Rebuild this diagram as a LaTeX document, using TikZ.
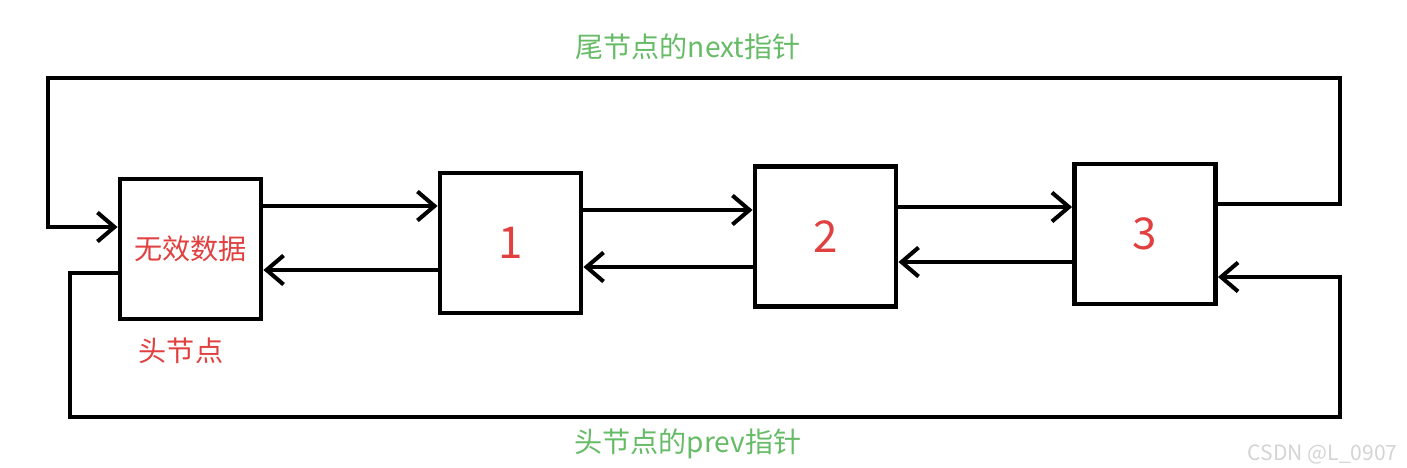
\documentclass[tikz,border=0pt]{standalone}
\usepackage{fontspec}
\usetikzlibrary{arrows.meta}
\newfontfamily\cjk{Noto Sans CJK SC}
\definecolor{LLRed}{HTML}{E0403F}
\definecolor{LLGreen}{HTML}{66BB66}
\definecolor{LLMark}{HTML}{D4D4D4}
\tikzset{
  listbox/.style={draw=black,line width=2.8pt,minimum width=2.82cm,minimum height=2.80cm,inner sep=0pt},
  ptr/.style={line width=2.3pt,-{Straight Barb[length=3.4mm,width=5.8mm,line width=2.3pt]}},
  rim/.style={line width=2.3pt}
}
\begin{document}
\begin{tikzpicture}[x=0.02cm,y=-0.02cm]
\clip (0,0) rectangle (1407,467);
\node[listbox] (head) at (190.5,249) {};
\node[text=LLRed,font=\cjk\fontsize{16pt}{18pt}\selectfont] (headtxt) at (head.center) {无效数据};
\node[listbox,text=LLRed,font=\cjk\fontsize{25pt}{28pt}\selectfont] (n1) at (510.5,243) {1};
\node[listbox,text=LLRed,font=\cjk\fontsize{25pt}{28pt}\selectfont] (n2) at (825.5,236.5) {2};
\node[listbox,text=LLRed,font=\cjk\fontsize{25pt}{28pt}\selectfont] (n3) at (1145,234) {3};
\node[text=LLRed,font=\cjk\fontsize{16pt}{18pt}\selectfont] (headlbl) at (181,351) {头节点};
% next pointers
\draw[ptr] (head.east |- 0,206) -- (n1.west |- 0,206);
\draw[ptr] (n1.east |- 0,210) -- (n2.west |- 0,210);
\draw[ptr] (n2.east |- 0,207) -- (n3.west |- 0,207);
% prev pointers
\draw[ptr] (n1.west |- 0,270) -- (head.east |- 0,270);
\draw[ptr] (n2.west |- 0,267) -- (n1.east |- 0,267);
\draw[ptr] (n3.west |- 0,262) -- (n2.east |- 0,262);
% tail -> head
\draw[ptr] (n3.east |- 0,204) -- (1340,204) -- (1340,78) -- (48,78) -- (48,227) -- (head.west |- 0,227);
\node[text=LLGreen,font=\cjk\fontsize{16pt}{18pt}\selectfont] (nextlbl) at (688,47) {尾节点的next指针};
% head -> tail
\draw[ptr] (head.west |- 0,273) -- (70,273) -- (70,417) -- (1340,417) -- (1340,277) -- (n3.east |- 0,277);
\node[text=LLGreen,font=\cjk\fontsize{16pt}{18pt}\selectfont] (prevlbl) at (688,444) {头节点的prev指针};
\node[anchor=south east,text=LLMark,font=\cjk\fontsize{12pt}{14pt}\selectfont,inner sep=0pt] (mark) at (1398,464) {CSDN @L\_0907};
\end{tikzpicture}
\end{document}
